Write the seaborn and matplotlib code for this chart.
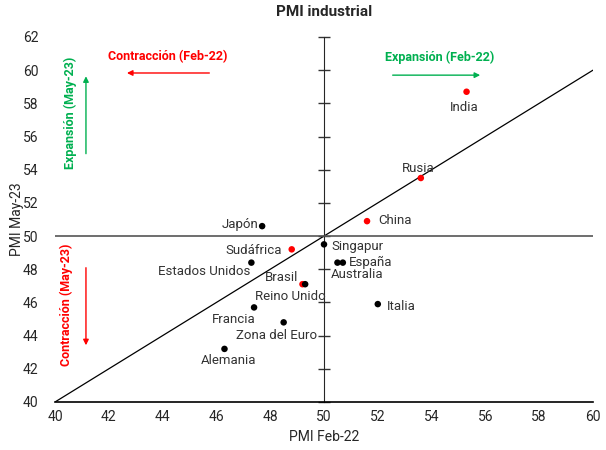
import matplotlib
matplotlib.use("Agg")
import matplotlib.pyplot as plt
import seaborn as sns
import pandas as pd

# values
paises = ["India", "Rusia", "China", "Japón", "Sudáfrica", "Singapur",
          "Estados Unidos", "España", "Australia", "Brasil", "Reino Unido",
          "Francia", "Zona del Euro", "Alemania", "Italia"]
pmi_feb22 = [55.3, 53.6, 51.6, 47.7, 48.8, 50.0, 47.3, 50.7, 50.5, 49.2, 49.3,
             47.4, 48.5, 46.3, 52.0]
pmi_may23 = [58.7, 53.5, 50.9, 50.6, 49.2, 49.5, 48.4, 48.4, 48.4, 47.1, 47.1,
             45.7, 44.8, 43.2, 45.9]
grupo = ["emergente", "emergente", "emergente", "desarrollado", "emergente",
         "desarrollado", "desarrollado", "desarrollado", "desarrollado",
         "emergente", "desarrollado", "desarrollado", "desarrollado",
         "desarrollado", "desarrollado"]
x_ticks = [40, 42, 44, 46, 48, 50, 52, 54, 56, 58, 60]
y_ticks = [40, 42, 44, 46, 48, 50, 52, 54, 56, 58, 60, 62]

# label placement: offset in points and horizontal alignment
label_pos = {
    "India": (-2, -11, "center"), "Rusia": (-1.5, 6.5, "center"),
    "China": (8, 0.7, "left"), "Japón": (-3, 1, "right"),
    "Sudáfrica": (-7, -1, "right"), "Singapur": (5, -1.5, "left"),
    "Estados Unidos": (-0.7, -6.5, "right"), "España": (4, 0, "left"),
    "Australia": (-5, -8.6, "left"), "Brasil": (-3, 5, "right"),
    "Reino Unido": (-11, -8.6, "center"), "Francia": (-14.4, -8.6, "center"),
    "Zona del Euro": (-5, -9.4, "center"), "Alemania": (3, -8.6, "center"),
    "Italia": (6.5, -1.4, "left"),
}

df = pd.DataFrame({"pais": paises, "feb22": pmi_feb22, "may23": pmi_may23, "grupo": grupo})

sns.set_style("white")
plt.rcParams["font.family"] = ["Roboto", "DejaVu Sans"]

RED = "#ff0000"
GREEN = "#00b050"

fig = plt.figure(figsize=(6.06, 4.5), dpi=100)
ax = fig.add_axes([0.0908, 0.1067, 0.8877, 0.8111])

# reference lines
ax.plot([40, 60], [40, 60], color="black", lw=0.9, zorder=1)
ax.axhline(50, color="#555555", lw=1.2, zorder=1)

sns.scatterplot(data=df, x="feb22", y="may23", hue="grupo",
                palette={"emergente": RED, "desarrollado": "black"},
                s=22, edgecolor="none", legend=False, ax=ax, zorder=3)

for _, r in df.iterrows():
    dx, dy, ha = label_pos[r["pais"]]
    ax.annotate(r["pais"], (r["feb22"], r["may23"]), xytext=(dx, dy),
                textcoords="offset points", ha=ha, va="center",
                fontsize=9.5, color="#333333")

ax.set_xlim(40, 60)
ax.set_ylim(40, 62)
ax.set_xticks(x_ticks)
ax.set_yticks(y_ticks)
ax.tick_params(axis="x", direction="inout", length=8, width=1, labelsize=10, pad=2)
ax.tick_params(axis="y", length=0, labelsize=10, pad=12)
for s in ["top", "right", "left"]:
    ax.spines[s].set_visible(False)
ax.spines["bottom"].set_color("black")
ax.spines["bottom"].set_linewidth(1.2)

# vertical axis line through x=50 with tick marks
sec = ax.secondary_yaxis(0.5)
sec.set_yticks(y_ticks)
sec.set_yticklabels([])
sec.tick_params(direction="inout", length=8, width=1, color="#333333")
sec.spines["left"].set_color("#555555")
sec.spines["left"].set_linewidth(1.2)

ax.set_xlabel("PMI Feb-22", fontsize=10)
ax.set_ylabel("PMI May-23", fontsize=10)
ax.yaxis.set_label_coords(-0.058, 0.5)
ax.set_title("PMI industrial", fontsize=11, fontweight="bold", pad=15)

# quadrant annotations
ax.text(44.2, 60.8, "Contracción (Feb-22)", color=RED, fontsize=9,
        fontweight="bold", ha="center", va="center")
ax.annotate("", xy=(42.57, 59.83), xytext=(45.84, 59.83),
            arrowprops=dict(arrowstyle="-|>", color=RED, lw=1, mutation_scale=8))
ax.text(54.31, 60.8, "Expansión (Feb-22)", color=GREEN, fontsize=9,
        fontweight="bold", ha="center", va="center")
ax.annotate("", xy=(55.91, 59.7), xytext=(52.45, 59.7),
            arrowprops=dict(arrowstyle="-|>", color=GREEN, lw=1, mutation_scale=8))
ax.text(40.56, 57.4, "Expansión (May-23)", color=GREEN, fontsize=9,
        fontweight="bold", ha="center", va="center", rotation=90)
ax.annotate("", xy=(41.15, 59.8), xytext=(41.15, 54.8),
            arrowprops=dict(arrowstyle="-|>", color=GREEN, lw=1, mutation_scale=8))
ax.text(40.41, 45.85, "Contracción (May-23)", color=RED, fontsize=9,
        fontweight="bold", ha="center", va="center", rotation=90)
ax.annotate("", xy=(41.15, 43.25), xytext=(41.15, 48.26),
            arrowprops=dict(arrowstyle="-|>", color=RED, lw=1, mutation_scale=8))

fig.savefig("out.png", dpi=100)
